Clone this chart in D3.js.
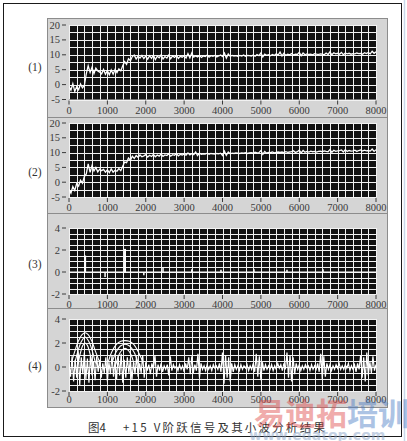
<!DOCTYPE html>
<html><head><meta charset="utf-8">
<script src="https://cdn.jsdelivr.net/npm/d3@7"></script>
<style>html,body{margin:0;padding:0;background:#fff;}svg{display:block;}</style>
</head><body>
<script>
// ---------------- DATA ----------------
const xTicks = [0,1000,2000,3000,4000,5000,6000,7000,8000];
const yTicksStep = [-5,0,5,10,15,20];
const yTicksWave = [-2,0,2,4];
const panelLabels = ["(1)","(2)","(3)","(4)"];
const sampleStep = 50;   // x spacing of signal samples
const signal1 = [
 -0.6,-1.9,0.3,-2.3,-0.7,-1.7,0.2,-1.1,-0.3,3.6,
 6.3,4.1,5.8,3.7,5.5,4.6,4.2,3.6,5.1,3.5,
 4.7,3.3,4.9,3.5,5.1,4.0,5.3,4.6,6.3,7.7,
 6.8,8.7,8.0,9.4,9.9,8.6,9.5,8.9,9.8,8.7,
 9.6,8.5,9.7,8.8,9.9,8.4,9.5,9.0,10.0,8.6,
 9.4,8.9,9.9,8.7,9.6,9.1,9.8,8.8,9.5,9.2,
 9.7,8.9,10.4,9.0,10.6,9.2,9.6,9.3,9.8,9.1,
 9.6,9.4,9.9,9.2,9.7,9.5,9.8,9.3,9.6,9.9,
 9.4,10.6,8.9,10.3,9.5,9.8,9.6,9.7,9.5,9.8,
 9.6,9.9,9.5,9.8,9.7,9.6,9.9,9.5,10.1,9.7,
 10.6,9.3,10.2,9.8,10.0,9.7,10.1,9.8,10.3,9.9,
 10.9,9.6,10.5,9.8,10.2,10.0,10.4,9.9,10.2,10.1,
 10.8,9.7,10.6,10.0,10.3,10.1,10.2,10.0,10.4,10.2,
 10.1,10.3,10.2,10.0,10.6,10.1,11.0,10.0,10.7,10.3,
 10.5,10.2,10.8,10.0,10.6,10.3,10.5,10.2,10.4,10.3,
 10.6,10.4,10.5,10.2,10.7,10.4,10.8,10.3,11.2,10.5,
 11.0];
const signal2 = [
 -2.4,-3.7,-1.5,-2.8,-0.5,-1.3,0.7,-0.3,1.9,2.8,
 6.2,3.3,5.6,3.8,5.0,3.5,4.4,3.9,4.3,3.4,
 4.2,3.2,4.5,3.4,4.0,3.7,4.6,3.9,5.4,6.8,
 6.6,8.2,7.4,8.8,8.0,9.0,8.4,9.2,8.6,8.9,
 9.3,8.5,9.1,8.7,9.4,8.6,9.2,8.8,9.5,8.7,
 9.2,9.0,9.6,8.8,9.3,9.1,9.7,8.9,9.4,9.2,
 9.5,9.1,9.9,9.2,9.6,9.3,10.2,9.0,9.8,9.4,
 9.6,9.5,9.8,9.4,9.7,9.6,9.5,9.7,9.6,9.8,
 9.0,10.5,9.1,10.2,9.6,9.8,9.7,9.9,9.8,9.7,
 9.9,9.8,10.0,9.7,9.9,10.0,9.8,10.1,9.9,10.0,
 10.7,9.4,10.4,9.8,10.1,10.0,10.2,9.9,10.1,10.2,
 10.1,10.2,10.0,10.3,10.1,10.2,10.3,10.6,10.0,10.3,
 10.8,9.9,10.7,10.1,10.4,10.2,10.5,10.3,10.4,10.2,
 10.4,10.5,10.3,10.6,10.4,10.3,11.0,10.1,10.8,10.4,
 10.6,10.7,10.9,10.2,11.0,10.4,10.7,10.5,10.6,10.8,
 10.4,10.7,10.9,10.5,10.8,10.6,10.7,10.5,11.2,10.4,
 11.0];
const spikeX = [420,940,1460,1950,2450,3200,3960,4820,5680,6620];
const spikeV = [1.5,-0.45,2.1,-0.3,0.4,0.25,0.2,0.25,0.2,0.25];
const detailStep = 40;
const detail4 = [
 0.3,-0.8,0.9,-1.2,0.6,-0.9,1.3,-1.5,0.8,-0.6,
 1.2,-1.0,0.7,-1.3,1.0,-0.7,0.5,-1.1,0.9,-0.4,
 0.6,-0.9,0.3,-0.5,0.8,-1.2,0.4,-0.6,1.0,-0.8,
 0.5,-1.0,0.9,-0.7,1.1,-1.3,0.6,-0.9,0.8,-0.5,
 0.7,-1.1,0.4,-0.6,0.9,-0.8,0.3,-0.5,1.0,-0.9,
 0.4,-0.3,0.2,-0.6,0.3,-0.2,1.0,-0.8,0.2,-0.3,
 0.3,-0.4,0.1,-0.2,0.2,-0.7,0.9,-0.3,0.2,-0.1,
 0.1,-0.3,0.2,-0.2,0.1,-0.4,0.3,-0.2,0.8,-0.6,
 0.9,-0.5,0.2,-0.3,1.1,-0.9,0.3,-0.2,0.1,-0.3,
 0.2,-0.2,0.1,-0.3,0.2,-0.1,0.1,-0.2,0.3,-0.4,
 1.2,-1.4,1.0,-0.9,0.8,-1.2,0.3,-0.4,0.2,-0.2,
 0.1,-0.3,0.2,-0.2,0.1,-0.1,0.2,-0.3,0.1,-0.2,
 0.3,-0.4,1.1,-0.8,0.9,-1.1,0.4,-0.3,0.2,-0.2,
 0.1,-0.2,0.2,-0.3,0.1,-0.2,0.3,-0.1,0.2,-0.3,
 0.3,-0.2,1.2,-0.9,1.0,-1.2,0.8,-0.6,0.3,-0.2,
 0.2,-0.3,0.1,-0.2,0.2,-0.1,0.1,-0.3,0.2,-0.2,
 0.1,-0.2,0.3,-0.4,1.1,-1.0,0.9,-0.8,0.3,-0.2,
 0.2,-0.3,0.1,-0.2,0.2,-0.1,0.3,-0.2,0.1,-0.2,
 0.2,-0.1,0.3,-0.3,0.1,-0.2,0.2,-0.4,0.3,-0.2,
 1.0,-0.9,0.8,-1.2,1.2,-0.7,0.4,-0.5,0.9,-0.3,
 0.2];
const arc1a = [[70,0.4],[150,1.3],[250,2.2],[340,2.7],[420,2.85],[500,2.7],[590,2.2],[690,1.3],[800,0.4]];
const arc1b = [[150,0.3],[230,1.3],[320,2.1],[420,2.5],[520,2.1],[610,1.3],[690,0.3]];
const arc1c = [[230,0.2],[300,1.2],[360,1.8],[420,2.0],[480,1.8],[540,1.2],[610,0.2]];
const arc2a = [[1020,0.4],[1120,1.3],[1240,1.9],[1350,2.15],[1460,2.2],[1570,2.15],[1680,1.9],[1800,1.3],[1930,0.4]];
const arc2b = [[1120,0.3],[1220,1.2],[1340,1.75],[1460,1.9],[1580,1.75],[1700,1.2],[1800,0.3]];
const arc2c = [[1220,0.2],[1300,1.0],[1380,1.4],[1460,1.55],[1540,1.4],[1620,1.0],[1700,0.2]];
const captionFig = "图4";
const captionText = "+15 V阶跃信号及其小波分析结果";

// ---------------- LAYOUT ----------------
const W = 407, H = 441;
const svg = d3.select("body").append("svg").attr("width", W).attr("height", H);
svg.append("rect").attr("width", W).attr("height", H).attr("fill", "#fff");
svg.append("rect").attr("x", 3.5).attr("y", 3.5).attr("width", 398).attr("height", 433)
  .attr("fill", "none").attr("stroke", "#1a1a1a").attr("stroke-width", 1);
svg.append("line").attr("x1", 404.5).attr("x2", 404.5).attr("y1", 0).attr("y2", H)
  .attr("stroke", "#c9d9ea").attr("stroke-width", 1.5);

const panels = [
  {top:18,  bot:117, pTop:25,  pBot:99.5,  dom:[-5,20], ticks:yTicksStep, gstep:2.5, lab:114, ly:71},
  {top:117, bot:213, pTop:123, pBot:197,   dom:[-5,20], ticks:yTicksStep, gstep:2.5, lab:211, ly:176},
  {top:213, bot:308, pTop:228, pBot:294,   dom:[-2,4],  ticks:yTicksWave, gstep:0.5, lab:308, ly:268},
  {top:308, bot:407, pTop:319, pBot:391,   dom:[-2,4],  ticks:yTicksWave, gstep:0.5, lab:403, ly:370}
];
const x = d3.scaleLinear().domain([0, 8000]).range([69, 376]);
const font = "Liberation Serif, DejaVu Serif, serif";

panels.forEach((p, i) => {
  const g = svg.append("g");
  g.append("rect").attr("x", 47.5).attr("y", p.top + 0.5).attr("width", 340).attr("height", p.bot - p.top)
    .attr("fill", "#d5d5d5").attr("stroke", "#8c8c8c").attr("stroke-width", 1);
  const y = d3.scaleLinear().domain(p.dom).range([p.pBot, p.pTop]);
  p.y = y;
  g.append("rect").attr("x", x(0)).attr("y", p.pTop).attr("width", x(8000) - x(0)).attr("height", p.pBot - p.pTop)
    .attr("fill", "#121212");
  const gx = d3.range(0, 8001, 200);
  g.selectAll(null).data(gx).join("line")
    .attr("x1", d => Math.round(x(d)) + 0.5).attr("x2", d => Math.round(x(d)) + 0.5)
    .attr("y1", p.pTop).attr("y2", p.pBot).attr("stroke", "#f2f2f2").attr("stroke-width", 1);
  const gy = d3.range(p.dom[0], p.dom[1] + 1e-9, p.gstep);
  g.selectAll(null).data(gy).join("line")
    .attr("y1", d => Math.round(y(d)) + 0.5).attr("y2", d => Math.round(y(d)) + 0.5)
    .attr("x1", x(0)).attr("x2", x(8000)).attr("stroke", "#f2f2f2").attr("stroke-width", 1);
  g.selectAll(null).data(p.ticks).join("text")
    .attr("x", 60).attr("y", d => y(d) + 3.5).attr("text-anchor", "end")
    .style("font-family", font).attr("font-size", 10.5).attr("fill", "#3a3a3a").text(d => d);
  g.selectAll(null).data(p.ticks).join("line")
    .attr("x1", 62).attr("x2", 66).attr("y1", d => y(d)).attr("y2", d => y(d))
    .attr("stroke", "#3a3a3a").attr("stroke-width", 1);
  g.selectAll(null).data(xTicks).join("line")
    .attr("x1", d => x(d)).attr("x2", d => x(d)).attr("y1", p.pBot + 1).attr("y2", p.pBot + 5)
    .attr("stroke", "#3a3a3a").attr("stroke-width", 1);
  g.selectAll(null).data(xTicks).join("text")
    .attr("x", d => x(d)).attr("y", p.lab).attr("text-anchor", "middle")
    .style("font-family", font).attr("font-size", 10.5).attr("fill", "#3a3a3a").text(d => d);
  svg.append("text").attr("x", 35).attr("y", p.ly).attr("text-anchor", "middle")
    .style("font-family", font).attr("font-size", 11.5).attr("fill", "#333").text(panelLabels[i]);
});

const clip = (p, id) => {
  svg.append("clipPath").attr("id", id).append("rect")
    .attr("x", x(0)).attr("y", p.pTop).attr("width", x(8000) - x(0)).attr("height", p.pBot - p.pTop);
  return "url(#" + id + ")";
};

[signal1, signal2].forEach((s, i) => {
  const p = panels[i];
  const line = d3.line().x((d, k) => x(k * sampleStep)).y(d => p.y(d));
  svg.append("path").datum(s).attr("d", line).attr("fill", "none")
    .attr("stroke", "#ffffff").attr("stroke-width", 1.3).attr("clip-path", clip(p, "c" + i));
});

{
  const p = panels[2];
  svg.append("line").attr("x1", x(0)).attr("x2", x(8000)).attr("y1", p.y(0)).attr("y2", p.y(0))
    .attr("stroke", "#fff").attr("stroke-width", 1.2);
  svg.selectAll(null).data(spikeX).join("line")
    .attr("x1", d => x(d)).attr("x2", d => x(d))
    .attr("y1", p.y(0)).attr("y2", (d, k) => p.y(spikeV[k]))
    .attr("stroke", "#fff").attr("stroke-width", (d, k) => Math.abs(spikeV[k]) > 1 ? 2 : 1.5);
}

{
  const p = panels[3];
  const cp = clip(p, "c3");
  const line = d3.line().x((d, k) => x(k * detailStep)).y(d => p.y(d));
  svg.append("path").datum(detail4).attr("d", line).attr("fill", "none")
    .attr("stroke", "#fff").attr("stroke-width", 1.2).attr("clip-path", cp);
  const arcLine = d3.line().x(d => x(d[0])).y(d => p.y(d[1])).curve(d3.curveCatmullRom);
  [arc1a, arc1b, arc1c, arc2a, arc2b, arc2c].forEach(a => {
    svg.append("path").datum(a).attr("d", arcLine).attr("fill", "none")
      .attr("stroke", "#fff").attr("stroke-width", 1.1).attr("clip-path", cp);
  });
}

svg.append("text").attr("x", 88).attr("y", 432).style("font-family", "Noto Sans CJK SC, sans-serif")
  .attr("font-size", 11.5).attr("fill", "#333").text(captionFig);
svg.append("text").attr("x", 123).attr("y", 432).style("font-family", "Noto Sans CJK SC, sans-serif")
  .attr("font-size", 11.5).attr("fill", "#333").attr("textLength", 202).attr("lengthAdjust", "spacing")
  .text(captionText);

// watermark
const wm = svg.append("text").attr("x", 254).attr("y", 425).style("font-family", "Noto Sans CJK SC, sans-serif")
  .attr("font-weight", "bold").attr("font-size", 31).attr("opacity", 0.45);
wm.append("tspan").attr("fill", "#e04848").text("易迪拓");
wm.append("tspan").attr("fill", "#4a7cc4").text("培训");
svg.append("text").attr("x", 249).attr("y", 440).style("font-family", "DejaVu Sans, sans-serif")
  .attr("font-weight", "bold").attr("font-size", 14).attr("fill", "#8aa4c8").attr("opacity", 0.5).text("www.edatop.com");
</script>
</body></html>
